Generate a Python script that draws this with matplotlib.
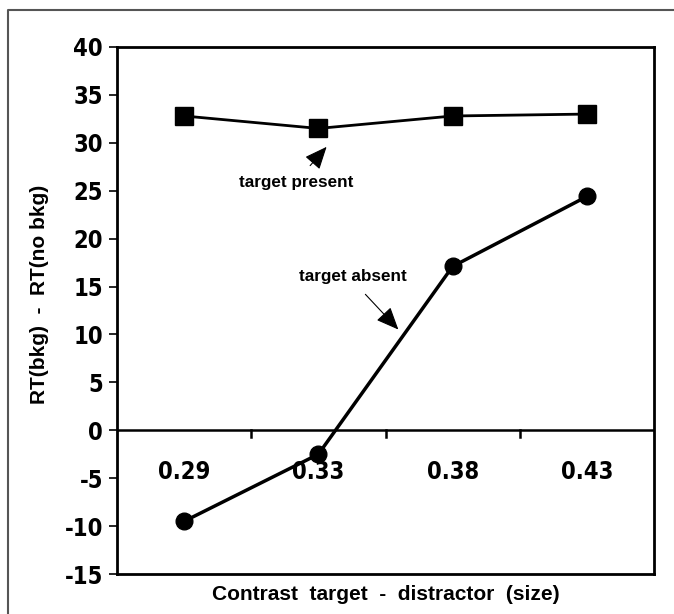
import matplotlib
matplotlib.use("Agg")
import matplotlib.pyplot as plt
from matplotlib.lines import Line2D

# data
contrast = ["0.29", "0.33", "0.38", "0.43"]
present_y = [32.8, 31.5, 32.8, 33.0]
absent_y = [-9.5, -2.5, 17.1, 24.4]
y_ticks = list(range(-15, 45, 5))

narrow = dict(family=["DejaVu Sans"], fontstretch="condensed")
arial = ["Liberation Sans", "DejaVu Sans"]

fig = plt.figure(figsize=(6.74, 6.14), dpi=100)
ax = fig.add_axes([117 / 674, 1 - 574 / 614, (654 - 117) / 674, (574 - 47) / 614])

x = list(range(len(contrast)))
ax.plot(x, present_y, color="black", lw=2, marker="s", ms=13, clip_on=False)
ax.plot(x, absent_y, color="black", lw=2.5, marker="o", ms=12, clip_on=False)

ax.set_xlim(-0.5, 3.5)
ax.set_ylim(-15, 40)
ax.set_yticks(y_ticks)
ax.set_yticklabels([str(t) for t in y_ticks], fontweight="bold", fontsize=17, **narrow)
ax.tick_params(axis="y", direction="out", length=6, width=1.2, pad=4)
ax.set_xticks([])

for s in ax.spines.values():
    s.set_linewidth(2)

# zero line with ticks between categories
ax.axhline(0, color="black", lw=1.8)
for b in [0.5, 1.5, 2.5]:
    ax.plot([b, b], [0, -0.7], color="black", lw=1.8)

for i, lab in enumerate(contrast):
    ax.text(i, -4.4, lab, ha="center", va="center", fontweight="bold",
            fontsize=17, **narrow)

ax.set_ylabel("RT(bkg)  -  RT(no bkg)", fontweight="bold", fontsize=15, family=arial)
ax.yaxis.set_label_coords(-0.127, 0.53)
ax.set_xlabel("Contrast  target  -  distractor  (size)", fontweight="bold",
              fontsize=15, family=arial, labelpad=8)

arrow = dict(arrowstyle="-|>,head_length=1.4,head_width=0.6", color="black", lw=0.8)
ax.annotate("", xy=(1.075, 29.8), xytext=(0.925, 27.4), arrowprops=arrow)
ax.text(0.836, 25.9, "target present", ha="center", va="center",
        fontweight="bold", fontsize=12.3, family=arial)
ax.annotate("", xy=(1.61, 10.3), xytext=(1.336, 14.4), arrowprops=arrow)
ax.text(1.254, 16.0, "target absent", ha="center", va="center",
        fontweight="bold", fontsize=12.3, family=arial)

# outer frame (only left and top edges visible)
fig.add_artist(Line2D([8 / 674, 8 / 674, 1], [0, 1 - 10 / 614, 1 - 10 / 614],
                      transform=fig.transFigure, color="#555555", lw=1.5))

fig.savefig("out.png", dpi=100)
